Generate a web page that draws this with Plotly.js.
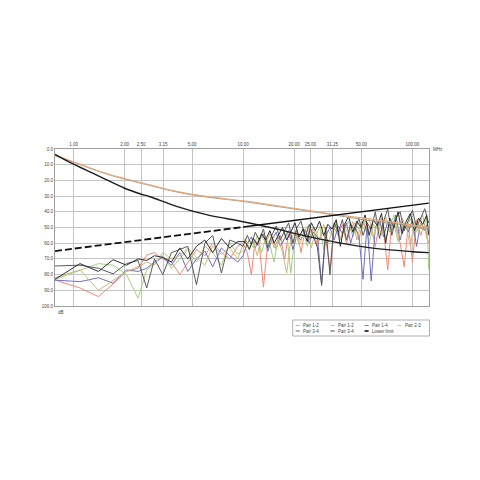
<!DOCTYPE html>
<html>
<head>
<meta charset="utf-8">
<script src="https://cdn.plot.ly/plotly-3.0.1.min.js"></script>
<style>html,body{margin:0;padding:0;background:#fff}#chart{width:480px;height:480px}</style>
</head>
<body>
<div id="chart"></div>
<script>
// ---- Data (dB values, frequencies in MHz) ----
const xTickVals = [1, 2, 2.5, 3.37, 5, 10, 20, 25, 33.7, 50, 100];
const xTickText = ["1.00", "2.00", "2.50", "3.15", "5.00", "10.00", "20.00", "25.00", "31.25", "50.00", "100.00"];

const pairFreqLow = [0.776, 1.09, 1.40, 1.71, 2.05, 2.40, 2.70, 3.0, 3.36, 3.78, 4.23, 4.72, 5.31, 5.95, 6.62, 7.45, 8.35, 9.3];
const pairFreqHighA = [10.0, 10.6, 11.2, 11.8, 12.5, 13.2, 14.0, 14.8, 15.7, 16.6, 17.6, 18.6, 19.7, 20.8, 22.0, 23.3, 24.6, 26.0, 27.5, 29.1, 30.8, 32.6, 34.5, 36.5, 38.6, 40.8, 43.2, 45.7, 48.3, 51.1, 54.0, 57.1, 60.4, 63.9, 67.6, 71.5, 75.6, 80.0, 84.6, 89.5, 94.6, 100.0, 105.8, 111.9, 118.3, 124.5];
const pairFreqHighB = [10.3, 10.9, 11.5, 12.15, 12.85, 13.6, 14.4, 15.25, 16.15, 17.1, 18.1, 19.15, 20.25, 21.4, 22.65, 23.95, 25.3, 26.75, 28.3, 29.95, 31.7, 33.55, 35.5, 37.55, 39.7, 42.0, 44.45, 47.0, 49.7, 52.55, 55.55, 58.75, 62.15, 65.75, 69.55, 73.55, 77.8, 82.3, 87.05, 92.05, 97.3, 102.9, 108.85, 115.1, 121.4, 125.0];

const pair12a = [83.5, 88.5, 94, 86, 78, 76, 67.5, 66, 70, 72, 80, 72, 64, 68, 60, 66, 70, 62,
  60, 66, 80, 58, 62, 88, 60, 56, 64, 55, 70, 54, 60, 52, 66, 51, 58, 50, 62, 53, 57, 77, 50, 55, 48, 60, 50, 47, 58, 46, 53, 49, 62, 47, 52, 77, 46, 50, 60, 75, 47, 72, 45, 55, 48, 60];
const pair12b = [83, 77.5, 73, 74, 80, 95, 77, 73, 68, 76, 70, 64, 72, 62, 66, 74, 60, 67,
  64, 58, 63, 55, 66, 57, 61, 72, 56, 60, 53, 79, 55, 58, 50, 62, 54, 57, 49, 64, 52, 55, 47, 58, 51, 46, 56, 49, 53, 45, 60, 48, 51, 44, 57, 49, 42, 54, 47, 51, 44, 56, 48, 52, 43, 77];
const pair14 = [83.5, 84.5, 82, 85.5, 77, 78, 76, 72, 69, 74, 66, 78, 70, 65, 75, 63, 68, 72,
  68, 60, 56, 63, 57, 54, 65, 58, 53, 62, 57, 52, 64, 55, 58, 51, 60, 53, 56, 86, 55, 50, 58, 49, 54, 47, 60, 50, 55, 83, 48, 84, 50, 45, 56, 46, 52, 42, 58, 47, 53, 45, 62, 47, 52, 46];
const pair23 = [82, 77, 90, 84, 78, 75, 72, 74, 66, 70, 68, 63, 69, 74, 62, 67, 63, 70,
  57, 63, 59, 68, 55, 60, 54, 63, 57, 66, 79, 58, 52, 61, 55, 49, 63, 52, 58, 48, 60, 53, 46, 57, 50, 54, 46, 58, 48, 52, 44, 56, 47, 55, 43, 53, 48, 59, 44, 50, 62, 46, 53, 42, 57, 49];
const pair34a = [74.5, 74, 76, 79.5, 73, 71, 88.5, 70, 80, 66, 64, 62, 86.5, 60, 55, 79, 58, 60,
  62, 55, 61, 53, 58, 51, 63, 55, 49, 58, 52, 47, 60, 50, 46, 56, 48, 55, 63, 87, 50, 80, 47, 53, 45, 58, 48, 52, 44, 55, 47, 51, 40, 57, 46, 38, 55, 44, 40, 52, 45, 39, 50, 44, 38, 47];
const pair34b = [83, 73, 78, 70.5, 74, 70, 71, 68, 69, 72, 63, 70, 62, 58, 66, 57, 63, 59,
  59, 64, 57, 61, 54, 58, 52, 60, 55, 50, 58, 53, 47, 56, 51, 59, 47, 52, 46, 55, 48, 51, 45, 62, 48, 43, 53, 46, 50, 42, 55, 45, 49, 41, 60, 44, 50, 40, 54, 46, 41, 52, 44, 48, 42, 55];

const upperFreq = [0.776, 1.0, 1.43, 2.0, 2.82, 4.05, 6.08, 10.0, 14.95, 23.6, 37.1, 60, 100, 125];
const upperOrange = [4.0, 8.1, 14.3, 18.8, 22.8, 27.0, 30.2, 33.0, 35.7, 38.9, 42.0, 45.0, 48.5, 50.0];
const upperGrayFreq = [0.776, 1, 1.43, 2, 2.82, 4.05, 6.08, 10, 14.95, 20, 23.6, 30, 37.1, 45, 55, 65, 75, 85, 95, 105, 115, 125];
const upperGray = [4.3, 8.4, 14.6, 19.2, 23.2, 27.4, 30.6, 33.4, 36.2, 38.2, 39.4, 41.0, 42.6, 44.0, 45.5, 46.4, 47.6, 48.0, 49.2, 49.5, 50.8, 51.0];

const lossFreq = [0.776, 1.0, 1.43, 2.0, 2.46, 2.82, 4.05, 6.08, 10.0, 14.95, 23.6, 37.1, 60, 100, 125];
const lossVals = [3.4, 9.7, 17.6, 25.0, 28.5, 30.4, 36.5, 41.8, 46.3, 50.3, 55.5, 59.8, 63.3, 65.4, 66.0];

const limitFreq = [0.776, 10, 125];
const limitVals = [65.0, 49.7, 34.5];

const legendNames = ["Pair 1-2", "Pair 1-2", "Pair 1-4", "Pair 2-3", "Pair 3-4", "Pair 3-4", "Lower limit"];
const pairColors = ["#ee8a78", "#a6d07e", "#6f6fc0", "#cdbb7c", "#5a5a5a", "#2e2e2e"];

// ---- Traces ----
const freqA = pairFreqLow.concat(pairFreqHighA);
const freqB = pairFreqLow.concat(pairFreqHighB);
const pairSeries = [pair12a, pair12b, pair14, pair23, pair34a, pair34b];
const pairFreqs = [freqA, freqB, freqA, freqB, freqA, freqB];
const traces = [];
pairSeries.forEach((vals, i) => {
  traces.push({x: pairFreqs[i], y: vals, type: 'scatter', mode: 'lines', name: legendNames[i],
    line: {color: pairColors[i], width: 1}, showlegend: false, hoverinfo: 'skip'});
});
traces.push({x: upperGrayFreq, y: upperGray, type: 'scatter', mode: 'lines', line: {color: '#a89c8c', width: 1, shape: 'spline'}, showlegend: false});
traces.push({x: upperFreq, y: upperOrange, type: 'scatter', mode: 'lines', line: {color: '#e8a878', width: 1.1, shape: 'spline'}, showlegend: false});
traces.push({x: lossFreq, y: lossVals, type: 'scatter', mode: 'lines', line: {color: '#1e1e1e', width: 1.4, shape: 'spline'}, showlegend: false});
traces.push({x: limitFreq.slice(0, 2), y: limitVals.slice(0, 2), type: 'scatter', mode: 'lines', name: 'Lower limit', line: {color: '#111', width: 1.8, dash: '7px,3px'}, showlegend: false});
traces.push({x: limitFreq.slice(1), y: limitVals.slice(1), type: 'scatter', mode: 'lines', line: {color: '#111', width: 1.4}, showlegend: false});

// ---- Custom legend (paper coords) ----
const L = 55, R = 429.5, T = 149, B = 306;
const W = R - L, H = B - T;
const px = x => (x - L) / W;
const py = y => (B - y) / H;
const shapes = [{type: 'rect', xref: 'paper', yref: 'paper', x0: px(293), x1: px(430), y0: py(320), y1: py(336), line: {color: '#9a9a9a', width: 0.8}, fillcolor: '#fff'}];
const annotations = [];
const colX = [296, 331, 365, 398];
const rowY = [325.5, 331];
const legendColors = pairColors.concat(['#111']);
legendNames.forEach((name, i) => {
  const r = i < 4 ? 0 : 1, c = i < 4 ? i : i - 4;
  const x0 = colX[c], y = rowY[r];
  shapes.push({type: 'line', xref: 'paper', yref: 'paper', x0: px(x0), x1: px(x0 + 4), y0: py(y), y1: py(y),
    line: {color: legendColors[i], width: i === 6 ? 1.6 : 0.9}});
  annotations.push({xref: 'paper', yref: 'paper', x: px(x0 + 5.5), y: py(y), xanchor: 'left', yanchor: 'middle',
    text: name, showarrow: false, font: {size: 4.5, color: '#444', family: 'Arial, Liberation Sans, sans-serif'}});
});
annotations.push({xref: 'paper', yref: 'paper', x: 1, y: 1, xanchor: 'left', yanchor: 'middle', xshift: 2,
  text: 'MHz', showarrow: false, font: {size: 4.5, color: '#444', family: 'Arial, Liberation Sans, sans-serif'}});
annotations.push({xref: 'paper', yref: 'paper', x: 0, y: 0, xanchor: 'left', yanchor: 'top', yshift: -2, xshift: 1,
  text: 'dB', showarrow: false, font: {size: 4.5, color: '#444', family: 'Arial, Liberation Sans, sans-serif'}});

const layout = {
  width: 480, height: 480,
  margin: {l: L, r: 480 - R, t: T, b: 480 - B, pad: 0},
  paper_bgcolor: '#fff', plot_bgcolor: '#fff',
  showlegend: false,
  font: {family: 'Arial, Liberation Sans, sans-serif', size: 4.5, color: '#444'},
  xaxis: {type: 'log', side: 'top', range: [Math.log10(0.776), Math.log10(125.3)],
    tickmode: 'array', tickvals: xTickVals, ticktext: xTickText, ticks: '', ticklen: 0,
    showgrid: true, gridcolor: '#c4c4c4', gridwidth: 1, showline: true, linecolor: '#a0a0a0', linewidth: 1, mirror: true,
    zeroline: false, tickfont: {size: 4.5, color: '#444'}},
  yaxis: {range: [100, 0], tick0: 0, dtick: 10, tickformat: '.1f', ticks: '', ticklen: 0,
    showgrid: true, gridcolor: '#c4c4c4', gridwidth: 1, showline: true, linecolor: '#a0a0a0', linewidth: 1, mirror: true,
    zeroline: false, tickfont: {size: 4.5, color: '#444'}},
  shapes: shapes, annotations: annotations
};
Plotly.newPlot('chart', traces, layout, {staticPlot: true, displayModeBar: false});
</script>
</body>
</html>
